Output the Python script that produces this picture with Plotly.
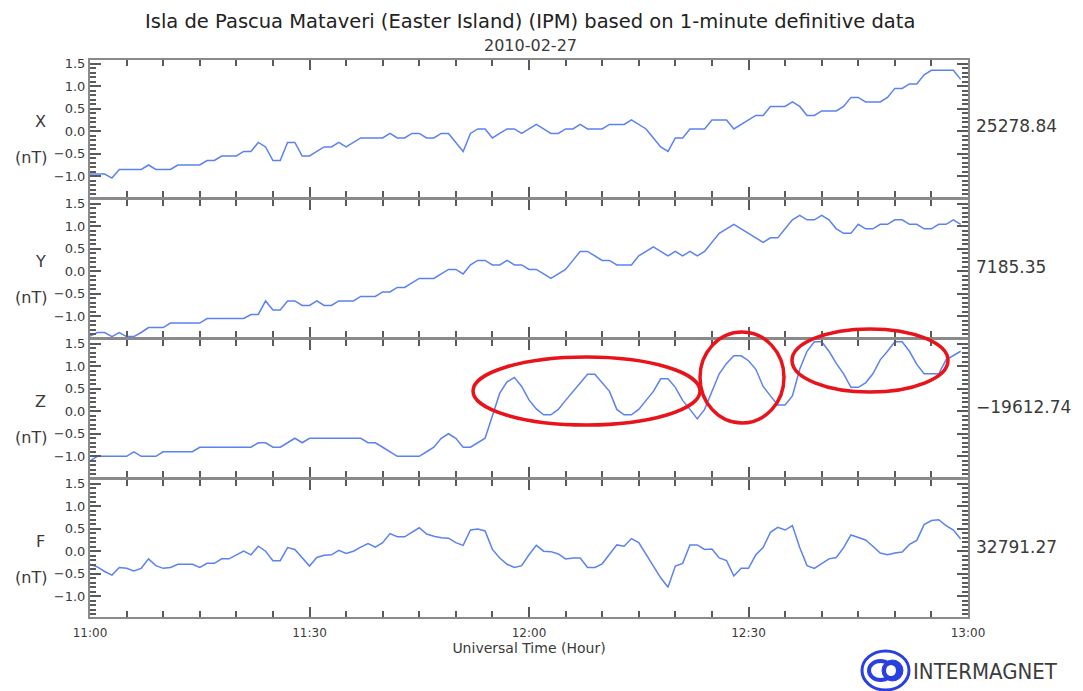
import pandas as pd
import plotly.graph_objects as go
from plotly.subplots import make_subplots

# ---------------- data (nT, relative to the baseline shown at right) -------------
title_text = "Isla de Pascua Mataveri (Easter Island) (IPM) based on 1-minute definitive data"
date_text = "2010-02-27"
components = ["X", "Y", "Z", "F"]
baselines = ["25278.84", "7185.35", "\u221219612.74", "32791.27"]
tick_labels = ["11:00", "11:30", "12:00", "12:30", "13:00"]
y_ticks = [-1.0, -0.5, 0.0, 0.5, 1.0, 1.5]

x_vals = [
    -0.95, -0.95, -0.95, -1.04, -0.85, -0.85, -0.85, -0.85, -0.75, -0.85,
    -0.85, -0.85, -0.75, -0.75, -0.75, -0.75, -0.65, -0.65, -0.55, -0.55,
    -0.55, -0.45, -0.45, -0.25, -0.35, -0.65, -0.65, -0.25, -0.25, -0.55,
    -0.55, -0.45, -0.35, -0.35, -0.25, -0.35, -0.25, -0.15, -0.15, -0.15,
    -0.15, -0.05, -0.15, -0.15, -0.05, -0.05, -0.15, -0.15, -0.05, -0.05,
    -0.25, -0.45, -0.05, 0.05, 0.05, -0.15, -0.05, 0.05, 0.05, -0.05,
    0.05, 0.15, 0.05, -0.05, -0.05, 0.05, 0.05, 0.15, 0.05, 0.05,
    0.05, 0.15, 0.15, 0.15, 0.25, 0.15, 0.05, -0.15, -0.35, -0.45,
    -0.15, -0.15, 0.05, 0.05, 0.05, 0.25, 0.25, 0.25, 0.05, 0.15,
    0.25, 0.35, 0.35, 0.55, 0.55, 0.55, 0.65, 0.55, 0.35, 0.35,
    0.45, 0.45, 0.45, 0.55, 0.75, 0.75, 0.65, 0.65, 0.65, 0.75,
    0.95, 0.95, 1.05, 1.05, 1.25, 1.35, 1.35, 1.35, 1.35, 1.15,
]
y_vals = [
    -1.44, -1.36, -1.36, -1.45, -1.36, -1.45, -1.45, -1.36, -1.25, -1.25,
    -1.25, -1.15, -1.15, -1.15, -1.15, -1.15, -1.05, -1.05, -1.05, -1.05,
    -1.05, -1.05, -0.96, -0.96, -0.66, -0.86, -0.86, -0.66, -0.66, -0.76,
    -0.76, -0.66, -0.76, -0.76, -0.66, -0.66, -0.66, -0.56, -0.56, -0.56,
    -0.46, -0.46, -0.36, -0.36, -0.26, -0.16, -0.16, -0.16, -0.06, 0.04,
    0.04, -0.06, 0.14, 0.24, 0.24, 0.14, 0.14, 0.24, 0.14, 0.14,
    0.04, 0.04, -0.06, -0.16, -0.06, 0.04, 0.24, 0.44, 0.44, 0.34,
    0.24, 0.24, 0.14, 0.14, 0.14, 0.34, 0.44, 0.54, 0.44, 0.34,
    0.44, 0.34, 0.44, 0.34, 0.44, 0.64, 0.84, 0.94, 1.04, 0.94,
    0.84, 0.74, 0.64, 0.74, 0.74, 0.94, 1.14, 1.24, 1.14, 1.14,
    1.24, 1.14, 0.94, 0.84, 0.84, 1.04, 0.94, 0.94, 1.04, 1.04,
    1.14, 1.14, 1.04, 1.04, 0.94, 0.94, 1.04, 1.04, 1.14, 1.04,
]
z_vals = [
    -1.10, -1.00, -1.00, -1.00, -1.00, -1.00, -0.90, -1.00, -1.00, -1.00,
    -0.90, -0.90, -0.90, -0.90, -0.90, -0.80, -0.80, -0.80, -0.80, -0.80,
    -0.80, -0.80, -0.80, -0.70, -0.70, -0.80, -0.80, -0.70, -0.60, -0.70,
    -0.60, -0.60, -0.60, -0.60, -0.60, -0.60, -0.60, -0.60, -0.70, -0.70,
    -0.80, -0.90, -1.00, -1.00, -1.00, -1.00, -0.90, -0.80, -0.60, -0.50,
    -0.60, -0.80, -0.80, -0.70, -0.60, -0.10, 0.40, 0.65, 0.75, 0.55,
    0.25, 0.05, -0.08, -0.08, 0.04, 0.24, 0.44, 0.63, 0.82, 0.82,
    0.64, 0.44, 0.04, -0.08, -0.08, 0.04, 0.24, 0.44, 0.72, 0.72,
    0.53, 0.24, 0.04, -0.17, 0.04, 0.44, 0.83, 1.06, 1.23, 1.23,
    1.12, 0.93, 0.55, 0.34, 0.14, 0.14, 0.34, 0.93, 1.33, 1.54,
    1.54, 1.33, 1.06, 0.83, 0.53, 0.53, 0.63, 0.83, 1.14, 1.33,
    1.54, 1.54, 1.33, 1.04, 0.83, 0.83, 0.83, 1.14, 1.23, 1.33,
]
f_vals = [
    -0.29, -0.35, -0.45, -0.53, -0.36, -0.38, -0.44, -0.38, -0.17, -0.32,
    -0.38, -0.36, -0.29, -0.29, -0.29, -0.36, -0.27, -0.27, -0.17, -0.17,
    -0.08, 0.00, -0.08, 0.11, 0.00, -0.21, -0.21, 0.08, 0.04, -0.15,
    -0.33, -0.14, -0.09, -0.08, 0.02, -0.05, 0.00, 0.09, 0.17, 0.09,
    0.19, 0.39, 0.32, 0.32, 0.42, 0.52, 0.38, 0.33, 0.30, 0.29,
    0.19, 0.13, 0.47, 0.49, 0.45, 0.04, -0.15, -0.29, -0.36, -0.32,
    -0.08, 0.13, 0.00, -0.01, -0.06, -0.17, -0.15, -0.15, -0.36, -0.36,
    -0.28, -0.08, 0.14, 0.11, 0.28, 0.19, -0.08, -0.32, -0.59, -0.80,
    -0.33, -0.27, 0.14, 0.14, 0.04, 0.05, -0.15, -0.21, -0.55, -0.38,
    -0.38, -0.08, 0.08, 0.42, 0.53, 0.47, 0.57, 0.08, -0.32, -0.38,
    -0.28, -0.17, -0.14, 0.08, 0.36, 0.30, 0.25, 0.11, -0.04, -0.08,
    -0.04, -0.02, 0.15, 0.24, 0.59, 0.68, 0.70, 0.57, 0.47, 0.27,
]
series = [x_vals, y_vals, z_vals, f_vals]

start = f"{date_text} {tick_labels[0]}"
end = f"{date_text} {tick_labels[-1]}"
times = pd.date_range(start, periods=len(x_vals), freq="1min")

# ---------------- figure ---------------------------------------------------------
# The page adds an 8px body margin, so the figure is 8px smaller and every
# reference pixel position below is shifted by OFF.
OFF = 8
W, H = 1083 - OFF, 691 - OFF
ML, MT = 90 - OFF, 60 - OFF
MR = W - (968 - OFF)
MB = H - (617 - OFF)
PW, PH = W - ML - MR, H - MT - MB
FONT = "DejaVu Sans"
LOGO_FONT = "Liberation Sans Narrow, DejaVu Sans Condensed, Roboto, DejaVu Sans, sans-serif"
TXT = "#3a3a3a"
AX = "#8a8a8a"
TICK = "#5a5a5a"
LINE = "#5b82ee"
MIN_MS = 60 * 1000
NOGRID = "rgba(0,0,0,0)"


def px(xr):
    return (xr - OFF - ML) / PW


def py(yr):
    return (H - MB - (yr - OFF)) / PH


fig = make_subplots(rows=4, cols=1, shared_xaxes=True, vertical_spacing=3 / PH)

for i, vals in enumerate(series):
    fig.add_trace(
        go.Scatter(x=times, y=vals, mode="lines",
                   line=dict(color=LINE, width=1.5), showlegend=False,
                   hoverinfo="x+y"),
        row=i + 1, col=1)

for i in range(4):
    fig.update_xaxes(
        row=i + 1, col=1,
        range=[start, end],
        tickmode="linear", tick0=start, dtick=30 * MIN_MS, tickformat="%H:%M",
        showticklabels=(i == 3), ticklabelstandoff=4,
        ticks="inside", ticklen=10, tickwidth=2, tickcolor=TICK,
        minor=dict(ticks="inside", ticklen=6, dtick=5 * MIN_MS,
                   tickcolor=TICK, tickwidth=2),
        showline=True, linecolor=AX, linewidth=2, mirror="allticks",
        gridcolor=NOGRID, zeroline=False,
        tickfont=dict(family=FONT, size=12, color=TXT),
    )
    fig.update_yaxes(
        row=i + 1, col=1,
        range=[-1.46, 1.58],
        tickmode="linear", tick0=y_ticks[0], dtick=y_ticks[1] - y_ticks[0], tickformat=".1f",
        ticks="inside", ticklen=11, tickwidth=2, tickcolor=TICK,
        minor=dict(ticks="inside", ticklen=6, dtick=0.1,
                   tickcolor=TICK, tickwidth=1.6),
        showline=True, linecolor=AX, linewidth=2, mirror="allticks",
        gridcolor=NOGRID, zeroline=False,
        tickfont=dict(family=FONT, size=13, color=TXT),
    )

fig.update_xaxes(title_text="Universal Time (Hour)", title_standoff=3,
                 title_font=dict(family=FONT, size=14, color=TXT), row=4, col=1)

ann = []
for i, name in enumerate(components):
    dom = fig.layout["yaxis" if i == 0 else f"yaxis{i + 1}"].domain
    mid = (dom[0] + dom[1]) / 2
    ann.append(dict(text=name, x=px(40), y=mid + 7 / PH, xref="paper", yref="paper",
                    xanchor="center", yanchor="middle", showarrow=False,
                    font=dict(family=FONT, size=16, color=TXT)))
    ann.append(dict(text="(nT)", x=px(31), y=mid - 29 / PH, xref="paper", yref="paper",
                    xanchor="center", yanchor="middle", showarrow=False,
                    font=dict(family=FONT, size=16, color=TXT)))
    ann.append(dict(text=baselines[i], x=px(974), y=mid + 2 / PH, xref="paper", yref="paper",
                    xanchor="left", yanchor="middle", showarrow=False,
                    font=dict(family=FONT, size=17, color=TXT)))

ann.append(dict(text=title_text, x=px(530), y=1 + MT / PH, xref="paper", yref="paper",
                xanchor="center", yanchor="top", showarrow=False,
                font=dict(family=FONT, size=19.5, color="#222")))
ann.append(dict(text=date_text, x=px(530), y=py(45), xref="paper", yref="paper",
                xanchor="center", yanchor="middle", showarrow=False,
                font=dict(family=FONT, size=16, color=TXT)))
ann.append(dict(text="INTERMAGNET", x=px(911), y=py(671), xref="paper", yref="paper",
                xanchor="left", yanchor="middle", showarrow=False,
                font=dict(family=LOGO_FONT, size=22, color="#3c3c3c")))
fig.update_layout(annotations=ann)

shapes = []
for (x0, x1, y0, y1) in [(473, 700, 357, 425), (700, 784, 332, 423), (792, 948, 329, 392)]:
    shapes.append(dict(type="circle", xref="paper", yref="paper",
                       x0=px(x0), x1=px(x1), y0=py(y1), y1=py(y0),
                       line=dict(color="#e8141c", width=3.5)))
# logo rings
BLUE = "#2a3fe0"
shapes.append(dict(type="circle", xref="paper", yref="paper",
                   x0=px(862), x1=px(909), y0=py(690), y1=py(651),
                   line=dict(color=BLUE, width=3)))
shapes.append(dict(type="circle", xref="paper", yref="paper",
                   x0=px(869), x1=px(892), y0=py(680), y1=py(661),
                   line=dict(color=BLUE, width=4)))
shapes.append(dict(type="circle", xref="paper", yref="paper",
                   x0=px(882), x1=px(903), y0=py(681), y1=py(660),
                   fillcolor=BLUE, line=dict(color=BLUE, width=1)))
shapes.append(dict(type="circle", xref="paper", yref="paper",
                   x0=px(886), x1=px(896), y0=py(676), y1=py(665),
                   fillcolor="white", line=dict(color="white", width=0)))
fig.update_layout(shapes=shapes)

fig.update_layout(
    width=W, height=H,
    margin=dict(l=ML, r=MR, t=MT, b=MB, autoexpand=False),
    paper_bgcolor="white", plot_bgcolor="white",
    font=dict(family=FONT, color=TXT),
)

fig.write_html("out.html")
